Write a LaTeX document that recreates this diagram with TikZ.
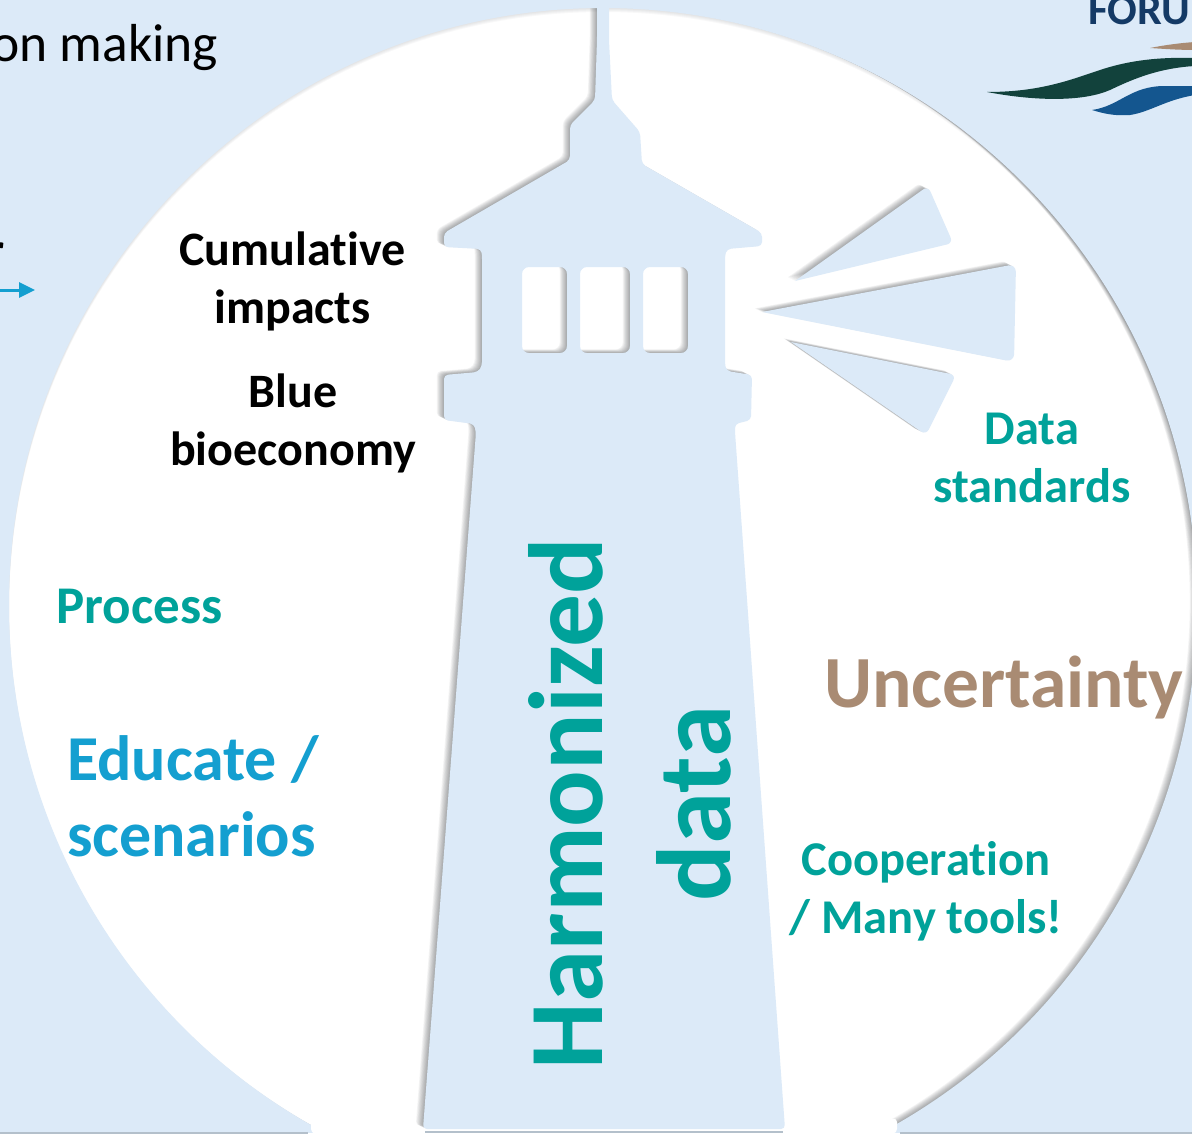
\documentclass[tikz,border=0pt]{standalone}
\usepackage{fontspec}
\usetikzlibrary{arrows.meta}
\setmainfont[Ligatures=NoCommon]{Carlito}
\definecolor{skyb}{HTML}{DCEAF8}
\definecolor{tealc}{HTML}{00A29A}
\definecolor{bluec}{HTML}{149FD0}
\definecolor{brownc}{HTML}{A98B73}
\definecolor{navyc}{HTML}{143A66}
\definecolor{greenc}{HTML}{12423C}
\definecolor{waveb}{HTML}{14568F}
\tikzset{
  txt/.style={inner sep=0pt,outer sep=0pt,align=center},
  blk/.style={txt,text=black,font=\bfseries\fontsize{48}{58}\selectfont},
  tl/.style={txt,text=tealc,font=\bfseries\fontsize{48.5}{58}\selectfont},
  edu/.style={txt,align=left,text=bluec,font=\bfseries\fontsize{64}{76}\selectfont},
  big/.style={txt,text=tealc,rotate=90,font=\bfseries\fontsize{105.5}{120}\selectfont},
  shadowc/.style={fill=black!70!skyb,fill opacity=0.06}
}
\newcommand{\ringpath}{(-60,-60) rectangle (1260,1300) (603,605) ellipse [x radius=594pt,y radius=597pt]}
\newcommand{\lighthousepath}{[rounded corners=4pt]
  (597,-10) -- (597,40) -- (595,100) -- (570,125) -- (570,160) -- (444,233) -- (444,247) -- (481,249) -- (482,255) -- (482,366) -- (478,372) -- (444,375) -- (444,420) -- (474,424) -- (476,432) -- (423,1129) -- (785,1129) -- (735,432) -- (735,424) -- (751,420) -- (752,375) -- (727,371) -- (725,366) -- (725,255) -- (727,249) -- (762,246) -- (762,233) -- (642,164) -- (640,132) -- (612,100) -- (609,40) -- (609,-10) -- cycle
  [rounded corners=7pt]
  (522,267) -- (567,267) -- (567,353) -- (522,353) -- cycle
  (580,267) -- (630,267) -- (630,353) -- (580,353) -- cycle
  (643,267) -- (688,267) -- (688,353) -- (643,353) -- cycle}
\newcommand{\beamspath}{[rounded corners=6pt]
  [sharp corners] (795,281) [rounded corners=6pt] -- (928,186) -- (953,243) [sharp corners] -- cycle
  (762,312) [rounded corners=8pt] -- (1016,264) -- (1014,362) [sharp corners] -- cycle
  (791,342) [rounded corners=6pt] -- (956,375) -- (926,435) [sharp corners] -- cycle}
\begin{document}
\begin{tikzpicture}[x=1pt,y=-1pt]
\useasboundingbox (0,0) rectangle (1192,1135);
\clip (0,0) rectangle (1192,1135);
\fill[white] (0,0) rectangle (1192,1135);
% soft shadows
\foreach \s in {1,...,9}{
  \begin{scope}[shift={(-0.8*\s,-0.4*\s)}]
    \fill[shadowc,even odd rule] \ringpath;
    \fill[shadowc,even odd rule] \lighthousepath;
    \fill[shadowc] \beamspath;
  \end{scope}
}
\foreach \s in {1,2,3,4}{
  \begin{scope}[shift={(0,\s)}]
    \fill[black!60!skyb,fill opacity=0.04,even odd rule] \ringpath;
  \end{scope}
}
% blue masses
\fill[skyb,even odd rule] \ringpath;
\fill[skyb,even odd rule] \lighthousepath;
\fill[skyb] \beamspath;
% rounded bottom ends of the blue background
\fill[white,rounded corners=4pt] (311,1118) -- (311,1133) -- (345,1140) -- (345,1125) -- cycle;
\fill[white,rounded corners=4pt] (897,1118) -- (897,1133) -- (860,1140) -- (860,1125) -- cycle;
\fill[white] (0,1133) rectangle (1192,1135);
\draw[black!18!skyb,line width=1.6pt] (0,1133) -- (308,1133);
\draw[black!18!skyb,line width=1.6pt] (425,1132) -- (783,1132);
\draw[black!18!skyb,line width=1.6pt] (900,1133) -- (1192,1133);
% logo
\node[txt,anchor=base west,text=navyc,font=\bfseries\fontsize{44}{48}\selectfont] (forum) at (1088,24) {FORUM};
\fill[brownc] (1150,48) .. controls (1165,45) and (1180,43) .. (1195,42) -- (1195,50) .. controls (1180,50) and (1165,49) .. (1150,48) -- cycle;
\fill[greenc] (987,92) .. controls (1040,92) and (1070,80) .. (1100,70) .. controls (1130,60) and (1160,57) .. (1195,58) -- (1195,66) .. controls (1160,68) and (1135,78) .. (1110,90) .. controls (1085,101) and (1040,102) .. (987,92) -- cycle;
\fill[waveb] (1092,110) .. controls (1120,106) and (1130,86) .. (1165,86) -- (1195,86) -- (1195,95) .. controls (1165,100) and (1150,112) .. (1130,115) .. controls (1115,116) and (1105,114) .. (1092,110) -- cycle;
% clipped texts on the left
\node[txt,anchor=base east,font=\fontsize{53.5}{60}\selectfont] (making) at (218,61) {on making};
\node[txt,anchor=base east,font=\bfseries\fontsize{48}{58}\selectfont] (rfrag) at (5,266) {r};
\coordinate (arrowa) at (-5,290);
\coordinate (arrowb) at (35,290);
\draw[bluec,line width=3pt,-{Triangle[length=16pt,width=15pt]}] (arrowa) -- (arrowb);
% text labels
\node[blk] (cumul) at (292.5,281.5) {Cumulative\\impacts};
\node[blk] (bluebio) at (293,423.5) {Blue\\bioeconomy};
\node[tl] (datast) at (1032,458) {Data\\standards};
\node[txt,anchor=base west,text=tealc,font=\bfseries\fontsize{53}{58}\selectfont] (process) at (56.5,623) {Process};
\node[edu] (educate) at (193,796) {Educate /\\scenarios};
\node[tl] (cooper) at (926,891) {Cooperation\\/ Many tools!};
\node[txt,anchor=base west,text=brownc,font=\bfseries\fontsize{73.5}{80}\selectfont] (uncert) at (824,707) {Uncertainty};
\node[big,anchor=base west] (harm) at (602,1069) {Harmonized};
\node[big,anchor=base west] (hdata) at (730,901) {data};
\end{tikzpicture}
\end{document}
